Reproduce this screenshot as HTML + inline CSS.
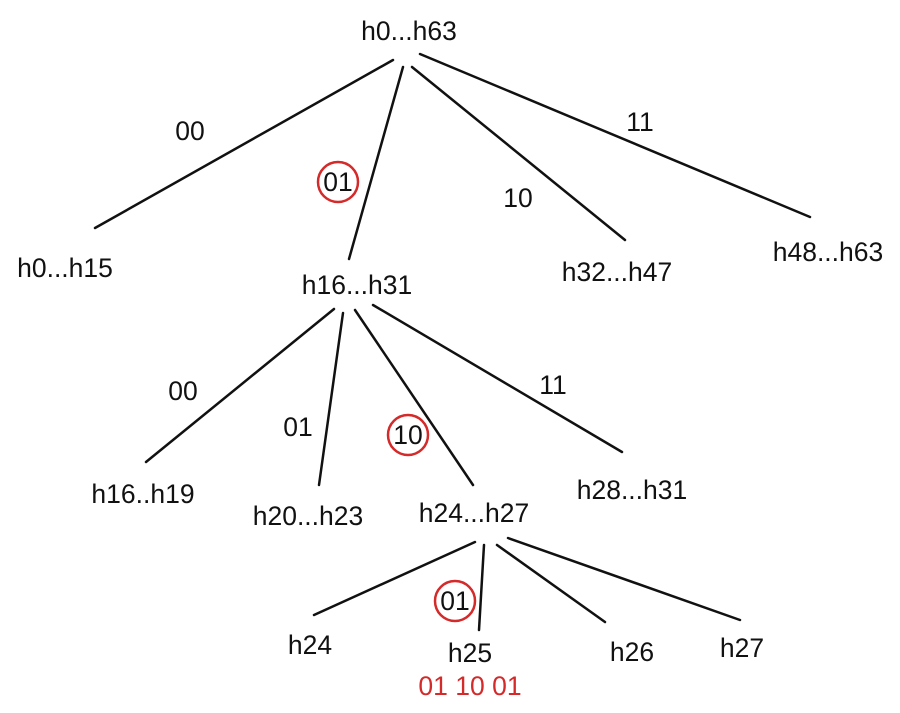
<!DOCTYPE html>
<html><head><style>body{margin:0;background:#fff}</style></head><body>
<svg width="900" height="713" xmlns="http://www.w3.org/2000/svg" style="display:block">
<g stroke="#111" stroke-width="2.5" stroke-linecap="round">
<line x1="393" y1="60" x2="95" y2="228"/>
<line x1="403" y1="67" x2="349" y2="259"/>
<line x1="412" y1="67" x2="625" y2="240"/>
<line x1="420" y1="54" x2="810" y2="217"/>
<line x1="334" y1="309" x2="146" y2="462"/>
<line x1="343" y1="313" x2="319" y2="485"/>
<line x1="355" y1="310" x2="473" y2="485"/>
<line x1="373" y1="305" x2="622" y2="452"/>
<line x1="475" y1="542" x2="314" y2="615"/>
<line x1="484" y1="545" x2="479" y2="630"/>
<line x1="497" y1="545" x2="605" y2="622"/>
<line x1="508" y1="538" x2="740" y2="620"/>
</g>
<g fill="none" stroke="#d42a2a" stroke-width="2.5">
<circle cx="338" cy="182" r="20"/>
<circle cx="408" cy="435" r="20"/>
<circle cx="455" cy="601" r="20"/>
</g>
<g font-family="Liberation Sans, sans-serif" font-size="26.5" fill="#111" text-anchor="middle">
<text x="409" y="40">h0...h63</text>
<text x="65" y="277">h0...h15</text>
<text x="357" y="294">h16...h31</text>
<text x="617" y="281">h32...h47</text>
<text x="828" y="261">h48...h63</text>
<text x="190" y="140">00</text>
<text x="338" y="191">01</text>
<text x="518" y="207">10</text>
<text x="640" y="131">11</text>
<text x="143" y="503">h16..h19</text>
<text x="308" y="525">h20...h23</text>
<text x="474" y="522">h24...h27</text>
<text x="632" y="499">h28...h31</text>
<text x="183" y="400">00</text>
<text x="298" y="436">01</text>
<text x="408" y="444">10</text>
<text x="553" y="394">11</text>
<text x="455" y="610">01</text>
<text x="310" y="654">h24</text>
<text x="470" y="662">h25</text>
<text x="632" y="661">h26</text>
<text x="742" y="657">h27</text>
<text x="470" y="695" fill="#d42a2a">01 10 01</text>
</g>
</svg>
</body></html>
